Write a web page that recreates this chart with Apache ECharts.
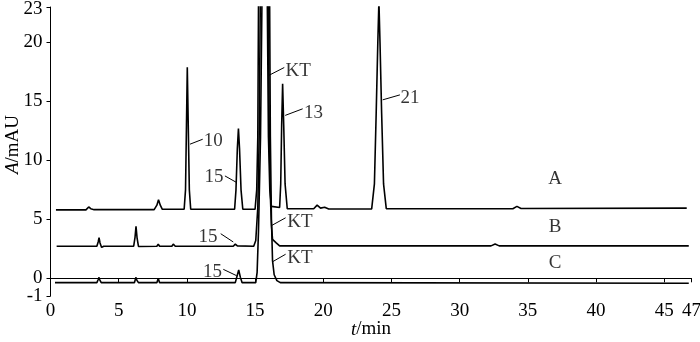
<!DOCTYPE html>
<html>
<head>
<meta charset="utf-8">
<style>
  html, body { margin: 0; padding: 0; background: #fff; }
  #chart { width: 700px; height: 342px; }
</style>
<script src="https://cdn.jsdelivr.net/npm/echarts@6/dist/echarts.min.js"></script>
</head>
<body>
<div id="chart"></div>
<script>
// chromatogram traces, [t/min, A/mAU] (peaks over 23 run off the top)
var traceA = [
  [0.4, 5.8], [2.6, 5.8], [2.8, 6.05], [2.95, 5.9], [3.2, 5.82], [7.6, 5.82],
  [7.8, 6.2], [7.92, 6.66], [8.05, 6.2], [8.2, 5.85], [9.8, 5.85], [9.9, 7.5],
  [9.97, 13], [10.03, 17.9], [10.1, 13], [10.18, 7.5], [10.28, 5.85], [13.5, 5.85],
  [13.6, 7.5], [13.7, 11], [13.78, 12.7], [13.86, 11], [13.97, 7.5], [14.1, 5.85],
  [15.0, 5.85], [15.12, 7.5], [15.2, 12], [15.25, 23], [15.28, 40], [15.58, 90],
  [15.87, 40], [15.9, 23], [15.98, 12], [16.08, 7.5], [16.2, 6.1], [16.8, 6.0],
  [16.88, 8], [16.95, 13], [17.02, 16.5], [17.1, 13], [17.2, 8], [17.36, 5.9],
  [19.3, 5.9], [19.55, 6.2], [19.8, 5.95], [20.1, 6.02], [20.4, 5.88], [23.55, 5.88],
  [23.75, 8], [23.88, 14], [24.0, 20], [24.08, 23.5], [24.16, 20], [24.28, 14],
  [24.42, 8], [24.62, 5.9], [33.9, 5.9], [34.2, 6.1], [34.5, 5.92], [46.65, 5.95]
];
var traceB = [
  [0.45, 2.72], [3.4, 2.72], [3.5, 3.1], [3.56, 3.45], [3.63, 3.0], [3.75, 2.62],
  [3.9, 2.72], [6.1, 2.72], [6.2, 3.5], [6.27, 4.4], [6.35, 3.4], [6.45, 2.7],
  [7.8, 2.72], [7.9, 2.9], [8.0, 2.72], [8.9, 2.72], [9.0, 2.9], [9.15, 2.72],
  [13.4, 2.72], [13.55, 2.9], [13.7, 2.75], [14.9, 2.72], [15.05, 3.2], [15.2, 6],
  [15.3, 12], [15.38, 23], [15.41, 40], [15.7, 90], [15.95, 40], [15.98, 23],
  [16.04, 12], [16.12, 7], [16.2, 4.5], [16.28, 3.3], [16.4, 3.15], [16.55, 3.0],
  [16.8, 2.75], [32.3, 2.75], [32.6, 2.9], [32.9, 2.75], [46.8, 2.75]
];
var traceC = [
  [0.33, -0.37], [3.4, -0.37], [3.5, -0.1], [3.56, 0.08], [3.62, -0.15], [3.72, -0.37],
  [6.15, -0.37], [6.22, -0.1], [6.27, 0.08], [6.33, -0.15], [6.45, -0.37], [7.8, -0.37],
  [7.9, 0.0], [8.0, -0.37], [13.55, -0.37], [13.68, 0.2], [13.8, 0.7], [13.92, 0.1],
  [14.05, -0.37], [15.05, -0.37], [15.15, 0.5], [15.25, 4], [15.4, 12], [15.5, 23],
  [15.53, 40], [15.8, 90], [16.04, 40], [16.07, 23], [16.12, 12], [16.2, 5],
  [16.28, 1.5], [16.4, 0.3], [16.6, -0.2], [16.85, -0.37], [46.8, -0.42]
];

// axis ticks
var xTicks = [0, 5, 10, 15, 20, 25, 30, 35, 40, 45, 47];
var yTicks = [0, 5, 10, 15, 20, 23];
var yBottom = -1.5;        // axis bottom, labelled "-1" in the figure
var yBottomLabel = '-1';

// peak labels: text, leader from, leader to, text anchor, align
var peakLabels = [
  ['10', [10.23, 11.37], [11.16, 11.79], [11.24, 11.62], 'left'],
  ['15', [13.65, 8.12], [12.79, 8.68], [12.68, 8.6], 'right'],
  ['KT', [16.02, 17.21], [17.14, 17.87], [17.23, 17.56], 'left'],
  ['13', [17.21, 13.81], [18.49, 14.37], [18.59, 14.0], 'left'],
  ['21', [24.36, 15.13], [25.62, 15.55], [25.67, 15.26], 'left'],
  ['15', [13.4, 3.08], [12.48, 3.78], [12.24, 3.5], 'right'],
  ['KT', [16.22, 4.48], [17.24, 5.13], [17.36, 4.76], 'left'],
  ['15', [13.65, 0.22], [12.67, 0.76], [12.57, 0.55], 'right'],
  ['KT', [16.26, 1.39], [17.24, 2.04], [17.36, 1.68], 'left']
];
var traceNames = [['A', [37, 8.4]], ['B', [37, 4.34]], ['C', [37, 1.26]]];

var font = "'Liberation Serif', 'DejaVu Serif', serif";
var myCharts = echarts.init(document.getElementById('chart'));

function traceSeries(data) {
  return {
    type: 'line',
    data: data,
    symbol: 'none',
    clip: true,
    lineStyle: { color: '#000', width: 1.6 },
    silent: true
  };
}

var labelData = [];
peakLabels.forEach(function (p) {
  labelData.push({ value: p[3], label: { formatter: p[0], align: p[4] } });
});
traceNames.forEach(function (n) {
  labelData.push({ value: n[1], label: { formatter: n[0], align: 'center' } });
});

var tickFont = { color: '#000', fontFamily: font, fontSize: 19 };

myCharts.setOption({
  animation: false,
  grid: { left: 50.5, right: 8.5, top: 7, bottom: 46, containLabel: false, outerBoundsMode: 'none' },
  xAxis: {
    type: 'value',
    min: 0,
    max: 47,
    name: '{i|t}/min',
    nameLocation: 'middle',
    nameGap: 24,
    nameMoveOverlap: false,
    nameTextStyle: {
      color: '#000', fontFamily: font, fontSize: 19,
      rich: { i: { fontStyle: 'italic', fontFamily: font, fontSize: 19, color: '#000' } }
    },
    splitLine: { show: false },
    axisLine: { lineStyle: { color: '#000', width: 1 } },
    axisTick: { customValues: xTicks, length: 4, lineStyle: { color: '#000' } },
    axisLabel: Object.assign({ customValues: xTicks, margin: 6 }, tickFont)
  },
  yAxis: [
    {
      type: 'value',
      min: yBottom,
      max: 23,
      name: '{i|A}/mAU',
      nameLocation: 'middle',
      nameGap: 28,
      nameMoveOverlap: false,
      nameTextStyle: {
        color: '#000', fontFamily: font, fontSize: 19, padding: [0, 0, 0, 14],
        rich: { i: { fontStyle: 'italic', fontFamily: font, fontSize: 19, color: '#000' } }
      },
      splitLine: { show: false },
      axisLine: { show: true, lineStyle: { color: '#000', width: 1 } },
      axisTick: { show: true, customValues: yTicks, length: 4, lineStyle: { color: '#000' } },
      axisLabel: Object.assign({
        customValues: yTicks, margin: 8, showMaxLabel: true,
        // push the top label down a bit so it is not cut
        formatter: function (v) { return v === 23 ? '{top|23}' : String(v); },
        rich: { top: { fontFamily: font, fontSize: 19, color: '#000', padding: [5, 0, 0, 0] } }
      }, tickFont)
    },
    {
      // bottom tick only
      type: 'value',
      position: 'left',
      offset: 0,
      min: yBottom,
      max: 23,
      splitLine: { show: false },
      axisLine: { show: false },
      axisTick: { show: true, customValues: [yBottom], length: 4, lineStyle: { color: '#000' } },
      axisLabel: Object.assign({
        customValues: [yBottom], margin: 8, showMinLabel: true,
        formatter: function () { return yBottomLabel; }
      }, tickFont)
    }
  ],
  series: [
    traceSeries(traceA),
    traceSeries(traceB),
    traceSeries(traceC),
    {
      // leader lines + peak names
      type: 'scatter',
      data: labelData,
      symbolSize: 0.1,
      itemStyle: { color: 'rgba(0,0,0,0)' },
      silent: true,
      label: {
        show: true,
        position: 'inside',
        verticalAlign: 'middle',
        color: '#000',
        fontFamily: font,
        fontSize: 19
      },
      markLine: {
        silent: true,
        symbol: 'none',
        label: { show: false },
        lineStyle: { color: '#000', width: 1, type: 'solid' },
        data: peakLabels.map(function (p) {
          return [{ coord: p[1] }, { coord: p[2] }];
        })
      }
    }
  ]
});
</script>
</body>
</html>
